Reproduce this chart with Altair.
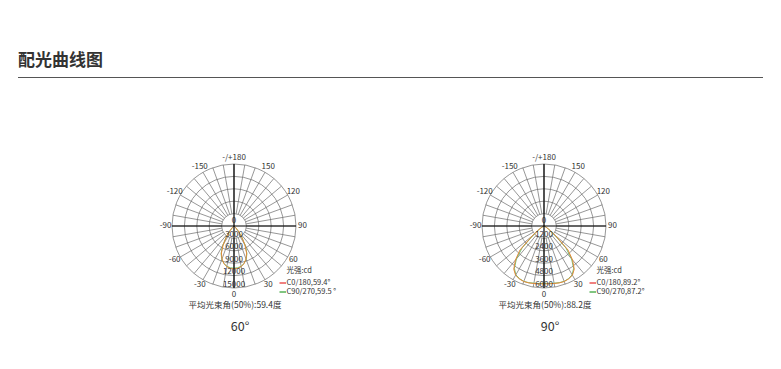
import altair as alt
import pandas as pd

# ---------------- data ----------------
angles = [0, 5, 10, 15, 20, 25, 30, 35, 40, 45, 50, 55, 60, 65, 70, 75, 80, 85, 90]
p60_c0 = [10400, 10300, 10000, 9400, 8500, 7200, 5300, 3200, 1500, 600, 250, 120, 60, 40, 30, 20, 15, 10, 0]
p60_c90 = [10200, 10150, 9900, 9400, 8600, 7400, 5500, 3300, 1500, 600, 250, 120, 60, 40, 30, 20, 15, 10, 0]
p90_c0 = [5600, 5620, 5650, 5700, 5720, 5650, 5500, 5100, 4300, 3300, 1500, 600, 250, 120, 60, 40, 20, 10, 0]
p90_c90 = [5550, 5580, 5620, 5680, 5700, 5620, 5450, 5000, 4150, 3000, 1300, 550, 230, 110, 55, 35, 20, 10, 0]

panel_names = ["60°", "90°"]
ring_max = [15000, 6000]
ring_labels = [["3000", "6000", "9000", "12000", "15000"],
               ["1200", "2400", "3600", "4800", "6000"]]
beam_avg = ["平均光束角(50%):59.4度", "平均光束角(50%):88.2度"]
legend_unit = "光强:cd"
legend_c0 = ["C0/180,59.4°", "C0/180,89.2°"]
legend_c90 = ["C90/270,59.5 °", "C90/270,87.2°"]
angle_ticks = [0, 30, 60, 90, 120, 150, 180, -150, -120, -90, -60, -30]
angle_tick_text = ["0", "30", "60", "90", "120", "150", "-/+180", "-150", "-120", "-90", "-60", "-30"]
spoke_angles = list(range(0, 360, 10))
title_text = "配光曲线图"

# ---------------- layout / style ----------------
W, H = 781, 369
CX = [234.0, 544.0]
CY = 226.0
R = 62.0
STEP = R / 5
FONT = "Noto Sans CJK SC"
C_ORANGE = "#E5893A"
C_GREEN = "#6CC070"
GRID = "#6a6a6a"
TXT = "#333333"

xs = alt.Scale(domain=[0, W], nice=False, zero=False)
ys = alt.Scale(domain=[0, H], nice=False, zero=False, reverse=True)
X = lambda f: alt.X(f, type="quantitative", scale=xs, axis=None)
Y = lambda f: alt.Y(f, type="quantitative", scale=ys, axis=None)


def curve_df(p, vals, tag):
    rows = []
    for a, v in zip(angles, vals):
        for sgn in ([1] if a == 0 else [1, -1]):
            rows.append(dict(theta=sgn * a, I=v, cx=CX[p], imax=ring_max[p], tag=tag))
    return pd.DataFrame(rows).sort_values("theta").reset_index(drop=True)


def curve_layer(p, vals, color, tag):
    return alt.Chart(curve_df(p, vals, tag)).transform_calculate(
        cr=f"datum.I / datum.imax * {R}"
    ).transform_calculate(
        cpx="datum.cx + datum.cr * sin(datum.theta * PI / 180)",
        cpy=f"{CY} + datum.cr * cos(datum.theta * PI / 180)",
    ).mark_line(strokeWidth=1, color=color).encode(
        x=X("cpx"), y=Y("cpy"), order=alt.Order("theta:Q")
    )


curve_layers = [
    curve_layer(0, p60_c90, C_GREEN, "a"), curve_layer(0, p60_c0, C_ORANGE, "b"),
    curve_layer(1, p90_c90, C_GREEN, "c"), curve_layer(1, p90_c0, C_ORANGE, "d"),
]

# rings
ring_df = pd.DataFrame([dict(cx=CX[p], k=k) for p in range(2) for k in range(1, 6)])
ring_layer = alt.Chart(ring_df).transform_calculate(
    rpy=f"{CY}", rsz=f"pow(2 * datum.k * {STEP}, 2)"
).mark_point(shape="circle", filled=False, color=GRID, strokeWidth=0.7, opacity=1).encode(
    x=X("cx"), y=Y("rpy"), size=alt.Size("rsz:Q", scale=None, legend=None)
)

# spokes
spoke_df = pd.DataFrame([dict(cx=CX[p], a=a) for p in range(2) for a in spoke_angles])
spoke_layer = alt.Chart(spoke_df).transform_calculate(
    sx1=f"datum.cx + {STEP} * sin(datum.a * PI / 180)",
    sy1=f"{CY} + {STEP} * cos(datum.a * PI / 180)",
    sx2=f"datum.cx + {R} * sin(datum.a * PI / 180)",
    sy2=f"{CY} + {R} * cos(datum.a * PI / 180)",
).mark_rule(color=GRID, strokeWidth=0.7).encode(
    x=X("sx1"), y=Y("sy1"), x2=alt.X2("sx2"), y2=alt.Y2("sy2")
)

# main axes (black cross)
axis_df = pd.DataFrame([dict(cx=CX[p], b=b) for p in range(2) for b in [0, 90]])
axis_layer = alt.Chart(axis_df).transform_calculate(
    ax1=f"datum.cx - {R} * sin(datum.b * PI / 180)",
    ay1=f"{CY} - {R} * cos(datum.b * PI / 180)",
    ax2=f"datum.cx + {R} * sin(datum.b * PI / 180)",
    ay2=f"{CY} + {R} * cos(datum.b * PI / 180)",
).mark_rule(color="#000000", strokeWidth=1.2).encode(
    x=X("ax1"), y=Y("ay1"), x2=alt.X2("ax2"), y2=alt.Y2("ay2")
)

# angle labels
alab_df = pd.DataFrame([dict(cx=CX[p], a=a, t=t) for p in range(2) for a, t in zip(angle_ticks, angle_tick_text)])
alab_layer = alt.Chart(alab_df).transform_calculate(
    lpx=f"datum.cx + {R + 6.5} * sin(datum.a * PI / 180)",
    lpy=f"{CY} + {R + 6.5} * cos(datum.a * PI / 180)",
).mark_text(font=FONT, fontSize=8, color=TXT, baseline="middle", align="center").encode(
    x=X("lpx"), y=Y("lpy"), text="t:N"
)

# ring labels
rlab_rows = []
for p in range(2):
    rlab_rows.append(dict(cx=CX[p], k=0, t="0", off=-5.5))
    for k, t in enumerate(ring_labels[p], start=1):
        rlab_rows.append(dict(cx=CX[p], k=k, t=t, off=-3.5))
rlab_df = pd.DataFrame(rlab_rows)
rlab_layer = alt.Chart(rlab_df).transform_calculate(
    qpy=f"{CY} + datum.k * {STEP} + datum.off"
).mark_text(font=FONT, fontSize=8, color=TXT, baseline="middle", align="center").encode(
    x=X("cx"), y=Y("qpy"), text="t:N"
)

# legend texts
leg_rows = []
for p in range(2):
    leg_rows.append(dict(cx=CX[p], dy=44.5, t=legend_unit))
    leg_rows.append(dict(cx=CX[p], dy=57.0, t=legend_c0[p]))
    leg_rows.append(dict(cx=CX[p], dy=66.0, t=legend_c90[p]))
leg_df = pd.DataFrame(leg_rows)
leg_layer = alt.Chart(leg_df).transform_calculate(
    gpx="datum.cx + 52.5", gpy=f"{CY} + datum.dy"
).mark_text(font=FONT, fontSize=7.5, color=TXT, baseline="middle", align="left").encode(
    x=X("gpx"), y=Y("gpy"), text="t:N"
)

# legend dashes (one layer, own colour scale)
dash_df = pd.DataFrame([dict(cx=CX[p], ddy=d, ser=s) for p in range(2)
                        for d, s in [(57.0, "C0/180"), (66.0, "C90/270")]])
dash_layer = alt.Chart(dash_df).transform_calculate(
    dx1="datum.cx + 45.5", dx2="datum.cx + 52", dyy=f"{CY} + datum.ddy"
).mark_rule(strokeWidth=1).encode(
    x=X("dx1"), x2=alt.X2("dx2"), y=Y("dyy"),
    color=alt.Color("ser:N", scale=alt.Scale(domain=["C0/180", "C90/270"], range=["#E00000", "#008A00"]), legend=None),
)

# captions
cap_df = pd.DataFrame([dict(cx=CX[p], t=beam_avg[p]) for p in range(2)])
cap_layer = alt.Chart(cap_df).transform_calculate(
    kpx="datum.cx + 1", kpy=f"{CY} + 79"
).mark_text(font=FONT, fontSize=8.5, color=TXT, baseline="middle", align="center").encode(
    x=X("kpx"), y=Y("kpy"), text="t:N"
)
name_df = pd.DataFrame([dict(cx=CX[p], t=panel_names[p]) for p in range(2)])
name_layer = alt.Chart(name_df).transform_calculate(
    npx="datum.cx + 6", npy=f"{CY} + 101"
).mark_text(font=FONT, fontSize=12.5, color=TXT, baseline="middle", align="center").encode(
    x=X("npx"), y=Y("npy"), text="t:N"
)

# header
title_layer = alt.Chart(pd.DataFrame({"t": [title_text]})).mark_text(
    font=FONT, fontSize=17, fontWeight="bold", color="#333333", align="left", baseline="middle"
).encode(x=alt.value(18), y=alt.value(61), text="t:N")
line_layer = alt.Chart(pd.DataFrame({"h": [title_text]})).mark_rule(color="#555555", strokeWidth=1).encode(
    x=alt.value(18), x2=alt.value(763), y=alt.value(77.5)
)

chart = alt.layer(
    ring_layer, spoke_layer, *curve_layers, axis_layer, alab_layer, rlab_layer,
    leg_layer, dash_layer, cap_layer, name_layer, title_layer, line_layer
).properties(
    width=W, height=H, autosize=alt.AutoSizeParams(type="none"), padding=0, background="white"
).configure_view(stroke=None)

chart.save("out.html", embed_options={"renderer": "svg", "actions": False})
